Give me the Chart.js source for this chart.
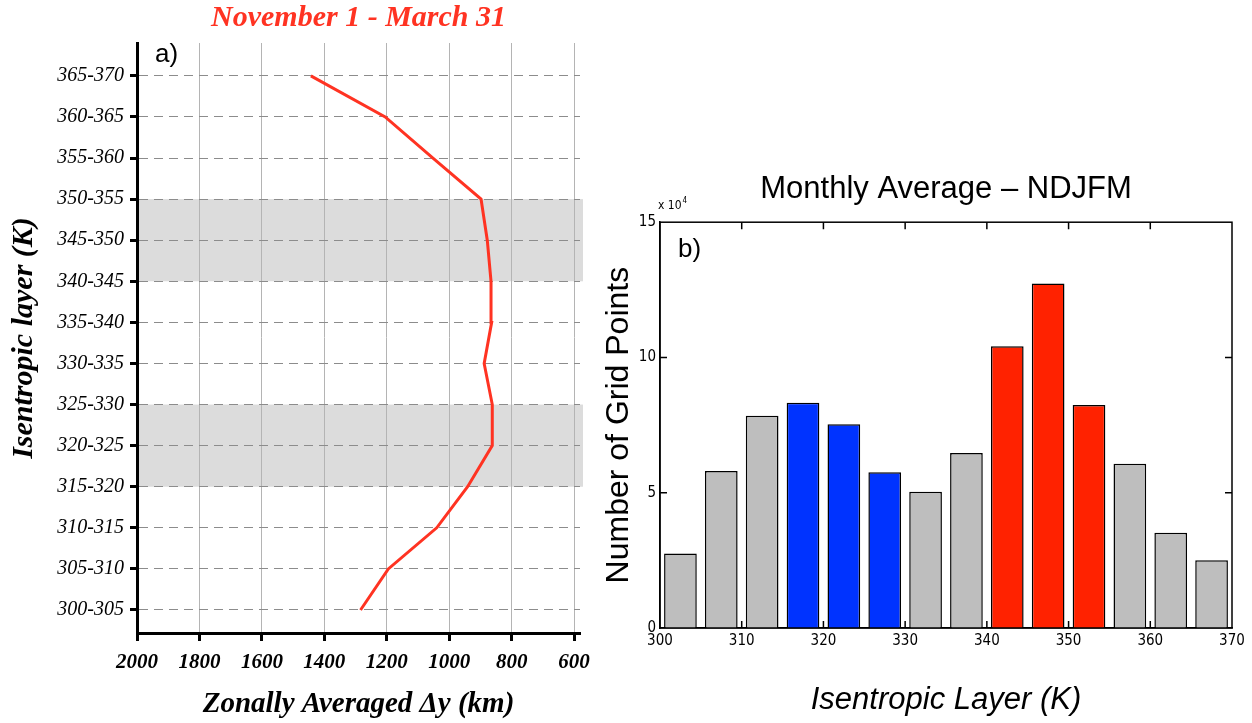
<!DOCTYPE html>
<html>
<head>
<meta charset="utf-8">
<script src="https://cdn.jsdelivr.net/npm/chart.js@4.4.1/dist/chart.umd.min.js"></script>
<style>
  body { margin: 0; background: #fff; }
  .panel { position: absolute; top: 0; height: 723px; }
  #left { left: 0; width: 600px; }
  #right { left: 600px; width: 652px; }
</style>
</head>
<body>
<div class="panel" id="left"><canvas id="layerChart"></canvas></div>
<div class="panel" id="right"><canvas id="histChart"></canvas></div>
<script>
// panel a) zonally averaged dy for each isentropic layer (bottom to top)
const layerLabels = ['300-305', '305-310', '310-315', '315-320', '320-325', '325-330', '330-335',
                     '335-340', '340-345', '345-350', '350-355', '355-360', '360-365', '365-370'];
const zonalDy = [1284, 1195, 1040, 941, 862, 862, 888, 864, 866, 878, 898, 1052, 1205, 1443];
const dyTicks = [2000, 1800, 1600, 1400, 1200, 1000, 800, 600];
const shadedLayers = [['315-320', '325-330'], ['340-345', '350-355']];

// panel b) histogram of grid points per layer (x 10^4)
const layerCenters = [302.5, 307.5, 312.5, 317.5, 322.5, 327.5, 332.5, 337.5, 342.5, 347.5, 352.5, 357.5, 362.5, 367.5];
const gridPoints = [2.75, 5.8, 7.85, 8.33, 7.53, 5.76, 5.04, 6.47, 10.41, 12.73, 8.24, 6.07, 3.52, 2.5];
const layerGroup = ['other', 'other', 'other', 'cold', 'cold', 'cold', 'other',
                    'other', 'warm', 'warm', 'warm', 'other', 'other', 'other'];

const serif = "'Liberation Serif', 'Times New Roman', serif";
const sans = "'Liberation Sans', Arial, sans-serif";
const narrow = "'DejaVu Sans Condensed', 'Liberation Sans Narrow', 'Liberation Sans', Arial, sans-serif";
const groupColors = { other: '#bebebe', cold: '#0033ff', warm: '#ff2200' };

const bandPlugin = {
    id: 'bands',
    beforeDraw(chart) {
        const { ctx, chartArea, scales: { y } } = chart;
        ctx.save();
        ctx.fillStyle = '#dcdcdc';
        shadedLayers.forEach(([lo, hi]) => {
            const y1 = y.getPixelForValue(layerLabels.indexOf(hi));
            const y2 = y.getPixelForValue(layerLabels.indexOf(lo));
            ctx.fillRect(chartArea.left, y1, chartArea.right - chartArea.left + 3, y2 - y1);
        });
        ctx.restore();
    }
};

const panelLabel = (text, dx, dy) => ({
    id: 'panelLabel',
    afterDraw(chart) {
        const { ctx, chartArea } = chart;
        ctx.save();
        ctx.font = `26px ${sans}`;
        ctx.fillStyle = '#000';
        ctx.textBaseline = 'middle';
        ctx.fillText(text, chartArea.left + dx, chartArea.top + dy);
        ctx.restore();
    }
});

const boxPlugin = {
    id: 'box',
    afterDatasetsDraw(chart) {
        const { ctx, chartArea: a, scales: { x, y } } = chart;
        ctx.save();
        ctx.strokeStyle = '#000';
        ctx.lineWidth = 1.5;
        ctx.strokeRect(a.left, a.top, a.right - a.left, a.bottom - a.top);
        ctx.beginPath();
        x.ticks.slice(1, -1).forEach(t => {
            const px = x.getPixelForValue(t.value);
            ctx.moveTo(px, a.bottom); ctx.lineTo(px, a.bottom - 7);
            ctx.moveTo(px, a.top); ctx.lineTo(px, a.top + 7);
        });
        y.ticks.slice(1, -1).forEach(t => {
            const py = y.getPixelForValue(t.value);
            ctx.moveTo(a.left, py); ctx.lineTo(a.left + 7, py);
            ctx.moveTo(a.right, py); ctx.lineTo(a.right - 7, py);
        });
        ctx.stroke();
        ctx.fillStyle = '#000';
        ctx.font = `12px ${narrow}`;
        ctx.fillText('x 10', a.left - 2, a.top - 13);
        const w = ctx.measureText('x 10').width;
        ctx.font = `8px ${narrow}`;
        ctx.fillText('4', a.left - 1 + w, a.top - 19);
        ctx.restore();
    }
};

new Chart(document.getElementById('layerChart'), {
    type: 'line',
    data: {
        datasets: [{
            data: zonalDy.map((v, i) => ({ x: v, y: i })),
            borderColor: '#ff3322',
            borderWidth: 3,
            pointRadius: 0,
            tension: 0
        }]
    },
    options: {
        indexAxis: 'y',
        animation: false,
        responsive: true,
        maintainAspectRatio: false,
        layout: { padding: { left: 0, right: 20, top: 0, bottom: 0 } },
        plugins: {
            legend: { display: false },
            tooltip: { enabled: false },
            title: {
                display: true,
                fullSize: false,
                text: 'November 1 - March 31',
                color: '#ff3322',
                font: { family: serif, size: 30, weight: 'bold', style: 'italic' },
                padding: { top: 0, bottom: 7 }
            }
        },
        scales: {
            x: {
                type: 'linear',
                reverse: true,
                min: 581,
                max: 2000,
                afterBuildTicks: s => { s.ticks = dyTicks.map(v => ({ value: v })); },
                afterFit: s => { s.height = 90; },
                grid: { color: '#b4b4b4', lineWidth: 1, tickColor: '#000', tickWidth: 3, tickLength: 8 },
                border: { color: '#000', width: 3 },
                ticks: {
                    color: '#000', padding: 9, autoSkip: false, maxRotation: 0,
                    callback: v => String(v),
                    font: { family: serif, size: 21, weight: 'bold', style: 'italic' }
                },
                title: {
                    display: true,
                    text: 'Zonally Averaged \u0394y (km)',
                    color: '#000',
                    font: { family: serif, size: 29, weight: 'bold', style: 'italic' },
                    padding: { top: 0, bottom: 1 }
                }
            },
            y: {
                type: 'linear',
                min: -0.56,
                max: 13.8,
                afterBuildTicks: s => { s.ticks = layerLabels.map((_, i) => ({ value: i })); },
                afterFit: s => { s.width = 137; },
                grid: { color: '#8c8c8c', lineWidth: 1, tickColor: '#000', tickWidth: 3, tickLength: 7 },
                border: { color: '#000', width: 3, dash: [9, 6] },
                ticks: {
                    color: '#000', padding: 6, autoSkip: false,
                    callback: v => layerLabels[v],
                    font: { family: serif, size: 20, style: 'italic' }
                },
                title: {
                    display: true,
                    text: 'Isentropic layer (K)',
                    color: '#000',
                    font: { family: serif, size: 30, weight: 'bold', style: 'italic' },
                    padding: { top: 6, bottom: 0 }
                }
            }
        }
    },
    plugins: [bandPlugin, panelLabel('a)', 18, 12)]
});

new Chart(document.getElementById('histChart'), {
    type: 'bar',
    data: {
        datasets: [{
            data: layerCenters.map((c, i) => ({ x: c, y: gridPoints[i] })),
            backgroundColor: layerGroup.map(g => groupColors[g]),
            borderColor: '#000',
            borderWidth: 1.5,
            barPercentage: 0.8,
            categoryPercentage: 1
        }]
    },
    options: {
        animation: false,
        responsive: true,
        maintainAspectRatio: false,
        layout: { padding: { left: 0, right: 20, top: 0, bottom: 0 } },
        plugins: {
            legend: { display: false },
            tooltip: { enabled: false },
            title: {
                display: true,
                fullSize: false,
                text: 'Monthly Average \u2013 NDJFM',
                color: '#000',
                font: { family: sans, size: 31, weight: 'normal' },
                padding: { top: 171, bottom: 14 }
            }
        },
        scales: {
            x: {
                type: 'linear',
                min: 300,
                max: 370,
                offset: false,
                grid: { display: false, drawTicks: false, offset: false },
                border: { color: '#000', width: 1.5 },
                afterFit: s => { s.height = 95; },
                ticks: { stepSize: 10, color: '#000', padding: 4, maxRotation: 0, font: { family: narrow, size: 15 } },
                title: {
                    display: true,
                    text: 'Isentropic Layer (K)',
                    color: '#000',
                    font: { family: sans, size: 31, style: 'italic' },
                    padding: { top: 0, bottom: 4 }
                }
            },
            y: {
                min: 0,
                max: 15,
                grid: { display: false, drawTicks: false },
                border: { color: '#000', width: 1.5 },
                afterFit: s => { s.width = 60; },
                ticks: { stepSize: 5, color: '#000', padding: 4, font: { family: narrow, size: 15 } },
                title: {
                    display: true,
                    text: 'Number of Grid Points',
                    color: '#000',
                    font: { family: sans, size: 32 },
                    padding: { top: 0, bottom: 0 }
                }
            }
        }
    },
    plugins: [boxPlugin, panelLabel('b)', 18, 28)]
});
</script>
</body>
</html>
